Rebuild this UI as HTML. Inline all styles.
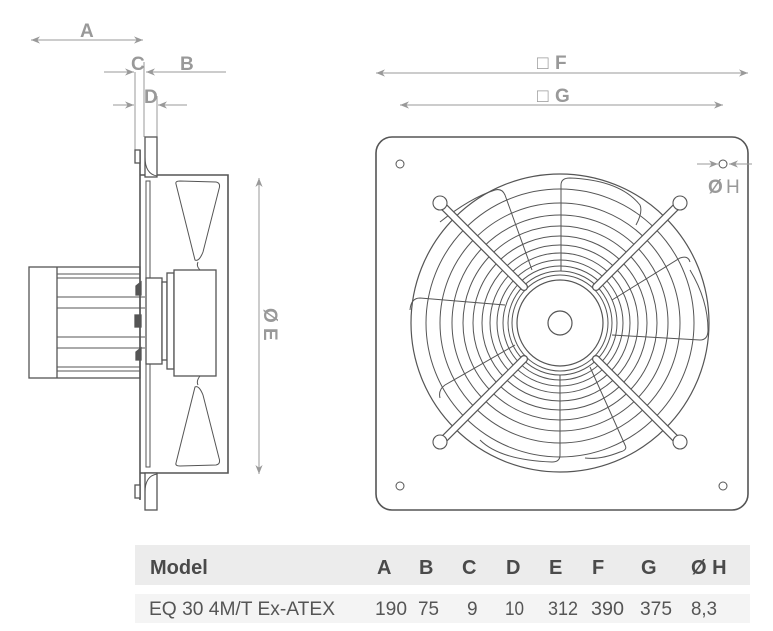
<!DOCTYPE html>
<html><head><meta charset="utf-8"><style>
html,body{margin:0;padding:0;background:#fff;width:773px;height:631px;overflow:hidden}
svg{position:absolute;left:0;top:0}
</style></head><body>
<svg width="773" height="631" viewBox="0 0 773 631" xmlns="http://www.w3.org/2000/svg" font-family="Liberation Sans, sans-serif">
<defs>
<marker id="ar" viewBox="0 0 10 10" refX="10" refY="5" markerWidth="9" markerHeight="9" markerUnits="userSpaceOnUse" orient="auto-start-reverse"><path d="M0,1 L10,5 L0,9 L3,5 z" fill="#999"/></marker>
</defs>
<g stroke="#999" stroke-width="1" fill="none">
<line x1="31" y1="40" x2="143" y2="40" marker-start="url(#ar)" marker-end="url(#ar)"/>
<line x1="104" y1="72" x2="134" y2="72" marker-end="url(#ar)"/>
<line x1="226" y1="72" x2="146" y2="72" marker-end="url(#ar)"/>
<line x1="113" y1="105" x2="134" y2="105" marker-end="url(#ar)"/>
<line x1="187" y1="105" x2="158" y2="105" marker-end="url(#ar)"/>
<line x1="135" y1="72" x2="135" y2="150"/>
<line x1="144" y1="62" x2="144" y2="137"/>
<line x1="157" y1="96" x2="157" y2="137"/>
<line x1="259" y1="178" x2="259" y2="474" marker-start="url(#ar)" marker-end="url(#ar)"/>
<line x1="376" y1="73" x2="748" y2="73" marker-start="url(#ar)" marker-end="url(#ar)"/>
<line x1="400" y1="105" x2="723" y2="105" marker-start="url(#ar)" marker-end="url(#ar)"/>
</g>
<g fill="#999" font-size="19" font-weight="bold">
<text x="80" y="37">A</text>
<text x="131" y="70">C</text>
<text x="180" y="70">B</text>
<text x="144" y="103">D</text>
<text x="537" y="69" font-weight="normal">□</text><text x="555" y="69">F</text>
<text x="537" y="102" font-weight="normal">□</text><text x="555" y="102">G</text>
<text transform="translate(264,308) rotate(90)">Ø E</text>
</g>
<g stroke="#555" stroke-width="1.3" fill="#fff">
<rect x="29" y="267" width="111" height="111"/>
<line x1="57" y1="267" x2="57" y2="378"/>
<g stroke-width="1">
<line x1="57" y1="274" x2="140" y2="274"/><line x1="57" y1="278" x2="140" y2="278"/>
<line x1="57" y1="297" x2="145" y2="297"/><line x1="57" y1="308" x2="145" y2="308"/>
<line x1="57" y1="337" x2="145" y2="337"/><line x1="57" y1="348" x2="145" y2="348"/>
<line x1="57" y1="367" x2="140" y2="367"/><line x1="57" y1="371" x2="140" y2="371"/>
</g>
<path d="M140,150 V500" fill="none" stroke-width="1.6"/>
<path d="M140,175 H228 V473 H140" fill="none" stroke-width="1.6"/>
<rect x="135" y="150" width="5" height="13"/>
<rect x="135" y="485" width="5" height="13"/>
<rect x="145" y="137" width="12" height="40"/>
<rect x="145" y="473" width="12" height="37"/>
<path d="M145,157 Q145,174 157,176 M145,492 Q145,476 157,474" fill="none" stroke-width="1"/>
<rect x="146" y="181" width="4" height="286" stroke-width="1"/>
<rect x="146" y="278" width="16" height="86"/>
<rect x="162" y="282" width="5" height="78"/>
<rect x="167" y="273" width="7" height="96"/>
<rect x="174" y="270" width="42" height="106"/>
<path d="M176,184 Q175,181 180,181 L216,182 Q221,183 219,189 L203,252 Q199,262 195,260 Z" stroke-width="1"/>
<path d="M198,262 Q196,266 200,270" fill="none" stroke-width="1"/>
<path d="M176,463 Q175,466 180,466 L216,465 Q221,464 219,458 L203,395 Q199,385 195,387 Z" stroke-width="1"/>
<path d="M198,385 Q196,381 200,376" fill="none" stroke-width="1"/>
<rect x="135" y="315" width="6" height="12" fill="#555"/>
<path d="M136,286 L141,282 V295 H136 Z" fill="#555"/>
<path d="M136,352 L141,348 V360 H136 Z" fill="#555"/>
</g>
<g stroke="#555" fill="none">
<rect x="376" y="137" width="372" height="373" rx="16" stroke-width="1.6" fill="#fff"/>
<g stroke-width="1">
<circle cx="400" cy="164" r="4"/><circle cx="723" cy="164" r="4"/>
<circle cx="400" cy="486" r="4"/><circle cx="723" cy="486" r="4"/>
</g>
<circle cx="560" cy="323" r="149" stroke-width="1.2"/>
<g stroke-width="1">
<circle cx="560" cy="323" r="48"/><circle cx="560" cy="323" r="52"/>
<circle cx="560" cy="323" r="57"/><circle cx="560" cy="323" r="63"/>
<circle cx="560" cy="323" r="70"/><circle cx="560" cy="323" r="78"/>
<circle cx="560" cy="323" r="87"/><circle cx="560" cy="323" r="97"/>
<circle cx="560" cy="323" r="108"/><circle cx="560" cy="323" r="120"/>
<circle cx="560" cy="323" r="134"/>
<path d="M561,271 V185 Q561,178 570,178 Q620,180 640,205 Q643,212 636,225"/>
<path d="M505,305 L420,298 Q411,298 410,310"/>
<path d="M532,270 L505,195 Q502,188 495,190 Q470,198 440,222"/>
<path d="M612,335 L700,340 Q708,340 708,330 Q708,300 690,270"/>
<path d="M590,367 L625,445 Q628,450 620,452 Q600,460 585,458"/>
<path d="M560,375 V455 Q560,462 552,462 Q500,460 480,440"/>
<path d="M515,345 L445,385 Q438,390 440,398"/>
<path d="M612,300 L680,258 Q688,255 690,262"/>
</g>
<circle cx="560" cy="323" r="43" fill="#fff" stroke-width="1.2"/>
<circle cx="560" cy="323" r="12" stroke-width="1.2"/>
<g stroke-linecap="round">
<line x1="441" y1="204" x2="524" y2="287" stroke="#555" stroke-width="8"/>
<line x1="441" y1="204" x2="524" y2="287" stroke="#fff" stroke-width="5.6"/>
<line x1="679" y1="204" x2="596" y2="287" stroke="#555" stroke-width="8"/>
<line x1="679" y1="204" x2="596" y2="287" stroke="#fff" stroke-width="5.6"/>
<line x1="441" y1="442" x2="524" y2="359" stroke="#555" stroke-width="8"/>
<line x1="441" y1="442" x2="524" y2="359" stroke="#fff" stroke-width="5.6"/>
<line x1="679" y1="442" x2="596" y2="359" stroke="#555" stroke-width="8"/>
<line x1="679" y1="442" x2="596" y2="359" stroke="#fff" stroke-width="5.6"/>
</g>
<g fill="#fff" stroke-width="1.1">
<circle cx="440" cy="203" r="7"/><circle cx="680" cy="203" r="7"/>
<circle cx="440" cy="442" r="7"/><circle cx="680" cy="442" r="7"/>
</g>
</g>
<g stroke="#999" stroke-width="1" fill="none">
<line x1="697" y1="164" x2="718" y2="164" marker-end="url(#ar)"/>
<line x1="752" y1="164" x2="729" y2="164" marker-end="url(#ar)"/>
</g>
<g fill="#999" font-size="19" font-weight="bold">
<text x="708" y="193">Ø</text><text x="726" y="193" font-weight="normal">H</text>
</g>
<rect x="135" y="545" width="615" height="40" fill="#ececec"/>
<rect x="135" y="594" width="615" height="29" fill="#f4f4f4"/>
<g fill="#4a4a4a" font-size="20" font-weight="bold">
<text x="150" y="574">Model</text>
<text x="377" y="574">A</text><text x="419" y="574">B</text><text x="462" y="574">C</text>
<text x="506" y="574">D</text><text x="549" y="574">E</text><text x="592" y="574">F</text>
<text x="641" y="574">G</text><text x="691" y="574">Ø H</text>
</g>
<g fill="#555" font-size="19">
<text x="149" y="615" textLength="186" lengthAdjust="spacingAndGlyphs">EQ 30 4M/T Ex-ATEX</text>
<text x="375" y="615" textLength="32" lengthAdjust="spacingAndGlyphs">190</text>
<text x="418" y="615" textLength="21" lengthAdjust="spacingAndGlyphs">75</text>
<text x="467" y="615">9</text>
<text x="505" y="615" textLength="19" lengthAdjust="spacingAndGlyphs">10</text>
<text x="548" y="615" textLength="30" lengthAdjust="spacingAndGlyphs">312</text>
<text x="591" y="615" textLength="33" lengthAdjust="spacingAndGlyphs">390</text>
<text x="640" y="615" textLength="32" lengthAdjust="spacingAndGlyphs">375</text>
<text x="691" y="615" textLength="26" lengthAdjust="spacingAndGlyphs">8,3</text>
</g>
</svg>
</body></html>
